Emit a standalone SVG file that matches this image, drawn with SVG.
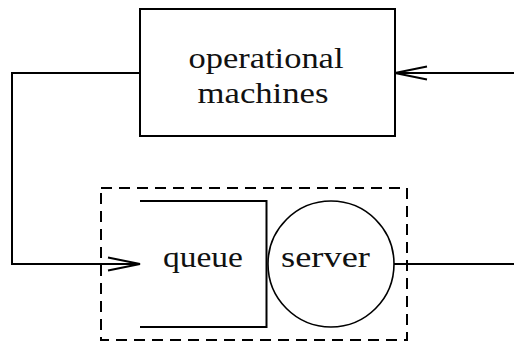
<svg xmlns="http://www.w3.org/2000/svg" width="514" height="341" viewBox="0 0 514 341">
  <style>
    .line { fill: none; stroke: #000; stroke-width: 2; }
    .thin { fill: none; stroke: #000; stroke-width: 1.6; }
    .dash { fill: none; stroke: #000; stroke-width: 2; stroke-dasharray: 11 7; }
    .label { font-family: 'Liberation Serif', 'Times New Roman', serif; font-size: 29px; fill: #111; text-anchor: middle; }
  </style>
  <defs>
    <marker id="openArrow" viewBox="0 0 34 16" refX="33" refY="8" markerWidth="34" markerHeight="16" markerUnits="userSpaceOnUse" orient="auto">
      <path d="M1,1.5 L33,8 L1,14.5" fill="none" stroke="#000" stroke-width="2"/>
    </marker>
  </defs>

  <g id="machines">
    <rect x="140" y="9" width="255" height="127" class="line"/>
    <text class="label" x="266" y="68" textLength="155" lengthAdjust="spacingAndGlyphs">operational</text>
    <text class="label" x="263" y="103" textLength="131" lengthAdjust="spacingAndGlyphs">machines</text>
  </g>

  <g id="station">
    <rect x="101" y="188" width="306" height="152" class="dash"/>
    <g id="queue">
      <path d="M140,201 H266.5 V327 H140" class="line"/>
      <text class="label" x="203" y="267" textLength="80" lengthAdjust="spacingAndGlyphs">queue</text>
    </g>
    <g id="server">
      <circle cx="331" cy="264" r="63" class="thin"/>
      <text class="label" x="325.5" y="267" textLength="89" lengthAdjust="spacingAndGlyphs">server</text>
    </g>
  </g>

  <g id="connectors">
    <path d="M514,73 H395" class="line" marker-end="url(#openArrow)"/>
    <path d="M140,73 H12 V264 H140" class="line" marker-end="url(#openArrow)"/>
    <path d="M394,264 H514" class="line"/>
  </g>
</svg>
